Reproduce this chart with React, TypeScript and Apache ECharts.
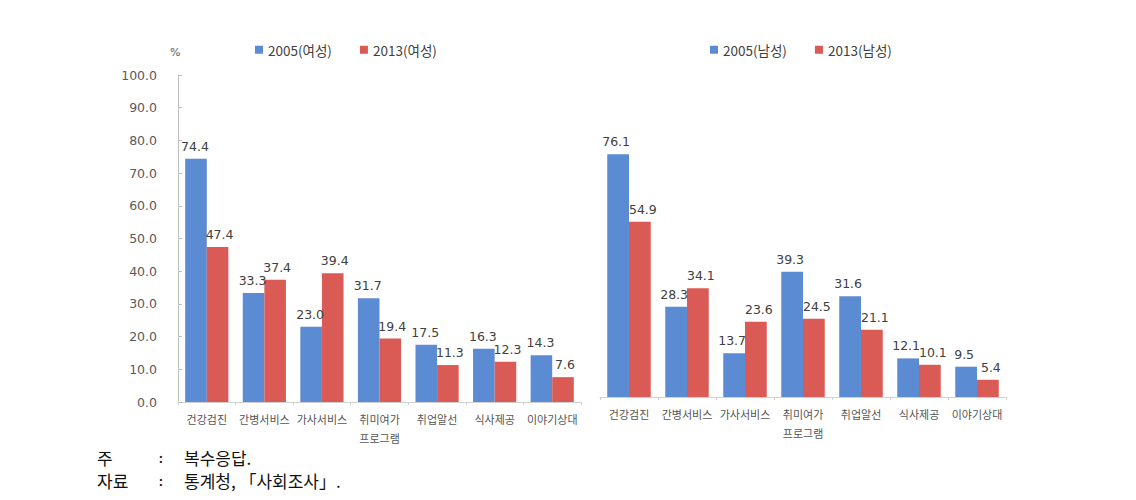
import React, { useEffect, useRef } from "react";
import * as echarts from "echarts";

const categories = ["건강검진", "간병서비스", "가사서비스", "취미여가\n프로그램", "취업알선", "식사제공", "이야기상대"];
const female2005 = [74.4, 33.3, 23.0, 31.7, 17.5, 16.3, 14.3];
const female2013 = [47.4, 37.4, 39.4, 19.4, 11.3, 12.3, 7.6];
const male2005 = [76.1, 28.3, 13.7, 39.3, 31.6, 12.1, 9.5];
const male2013 = [54.9, 34.1, 23.6, 24.5, 21.1, 10.1, 5.4];
const yTicks = [0, 10, 20, 30, 40, 50, 60, 70, 80, 90, 100];

const BLUE = "#5b8bd2";
const RED = "#da5b55";
const FONT = "'Noto Sans CJK KR', 'Noto Sans', sans-serif";
const NUMFONT = "'DejaVu Sans', sans-serif";

export default function App() {
  const ref = useRef<HTMLDivElement>(null);
  useEffect(() => {
    document.body.style.margin = "0";
    const chart = echarts.init(ref.current!, undefined, { renderer: "svg" });
    const labelCfg = (dx: number) => ({
      show: true,
      position: "top" as const,
      distance: 6,
      offset: [dx, 0],
      color: "#404040",
      fontSize: 12.5,
      fontFamily: NUMFONT,
      formatter: (p: any) => Number(p.value).toFixed(1),
    });
    const xAxisCommon = {
      type: "category" as const,
      data: categories,
      axisLine: { lineStyle: { color: "#d0d0d0" } },
      axisTick: { show: true, length: 3, lineStyle: { color: "#d0d0d0" } },
      axisLabel: { color: "#555", fontSize: 11, fontFamily: FONT, lineHeight: 19, margin: 7, interval: 0 },
    };
    const bar = (name: string, data: number[], color: string, idx: number, dx: number) => ({
      name,
      type: "bar" as const,
      xAxisIndex: idx,
      yAxisIndex: idx,
      data,
      barGap: "0%",
      barCategoryGap: "25%",
      itemStyle: { color },
      label: labelCfg(dx),
    });
    const legendText = { fontSize: 13.5, color: "#404040", fontFamily: FONT };
    const noteStyle = (text: string, family: string) => ({
      text,
      fontSize: 17,
      lineHeight: 20,
      fill: "#111",
      fontFamily: family,
    });
    const KR = "'Noto Sans CJK KR', serif";
    const SER = "'DejaVu Serif', serif";
    chart.setOption({
      animation: false,
      textStyle: { fontFamily: FONT },
      legend: [
        {
          data: ["2005(여성)", "2013(여성)"],
          left: 250,
          top: 38,
          itemWidth: 8,
          itemHeight: 8,
          itemGap: 28,
          icon: "rect",
          textStyle: legendText,
        },
        {
          data: ["2005(남성)", "2013(남성)"],
          left: 705,
          top: 38,
          itemWidth: 8,
          itemHeight: 8,
          itemGap: 28,
          icon: "rect",
          textStyle: legendText,
        },
      ],
      grid: [
        { left: 178, top: 75, width: 403, bottom: 98 },
        { left: 600, top: 78, width: 406, bottom: 103 },
      ],
      xAxis: [
        { ...xAxisCommon, gridIndex: 0 },
        { ...xAxisCommon, gridIndex: 1 },
      ],
      yAxis: [
        {
          type: "value",
          gridIndex: 0,
          min: yTicks[0],
          max: yTicks[yTicks.length - 1],
          interval: 10,
          axisLine: { show: true, lineStyle: { color: "#bdbdbd" } },
          axisTick: { show: true, inside: true, length: 4, lineStyle: { color: "#bdbdbd" } },
          splitLine: { show: false },
          axisLabel: {
            color: "#595959",
            fontSize: 12.5,
            fontFamily: NUMFONT,
            margin: 21,
            formatter: (v: number) => v.toFixed(1),
          },
        },
        {
          type: "value",
          gridIndex: 1,
          min: 0,
          max: 100,
          show: false,
          splitLine: { show: false },
        },
      ],
      series: [
        bar("2005(여성)", female2005, BLUE, 0, -1),
        bar("2013(여성)", female2013, RED, 0, 2),
        bar("2005(남성)", male2005, BLUE, 1, -2),
        bar("2013(남성)", male2013, RED, 1, 3),
      ],
      graphic: [
        { type: "text", left: 170, top: 47, style: { text: "%", fontSize: 11, fill: "#595959", fontFamily: NUMFONT } },
        { type: "text", left: 97, top: 447, style: noteStyle("주", KR) },
        { type: "text", left: 158, top: 447, style: noteStyle(":", SER) },
        { type: "text", left: 184, top: 447, style: noteStyle("복수응답.", KR) },
        { type: "text", left: 97, top: 470, style: noteStyle("자료", KR) },
        { type: "text", left: 158, top: 470, style: noteStyle(":", SER) },
        { type: "text", left: 184, top: 470, style: noteStyle("통계청, 「사회조사」.", KR) },
      ],
    });
    return () => chart.dispose();
  }, []);
  return <div ref={ref} style={{ position: "absolute", left: 0, top: 0, width: 1136, height: 500 }} />;
}
